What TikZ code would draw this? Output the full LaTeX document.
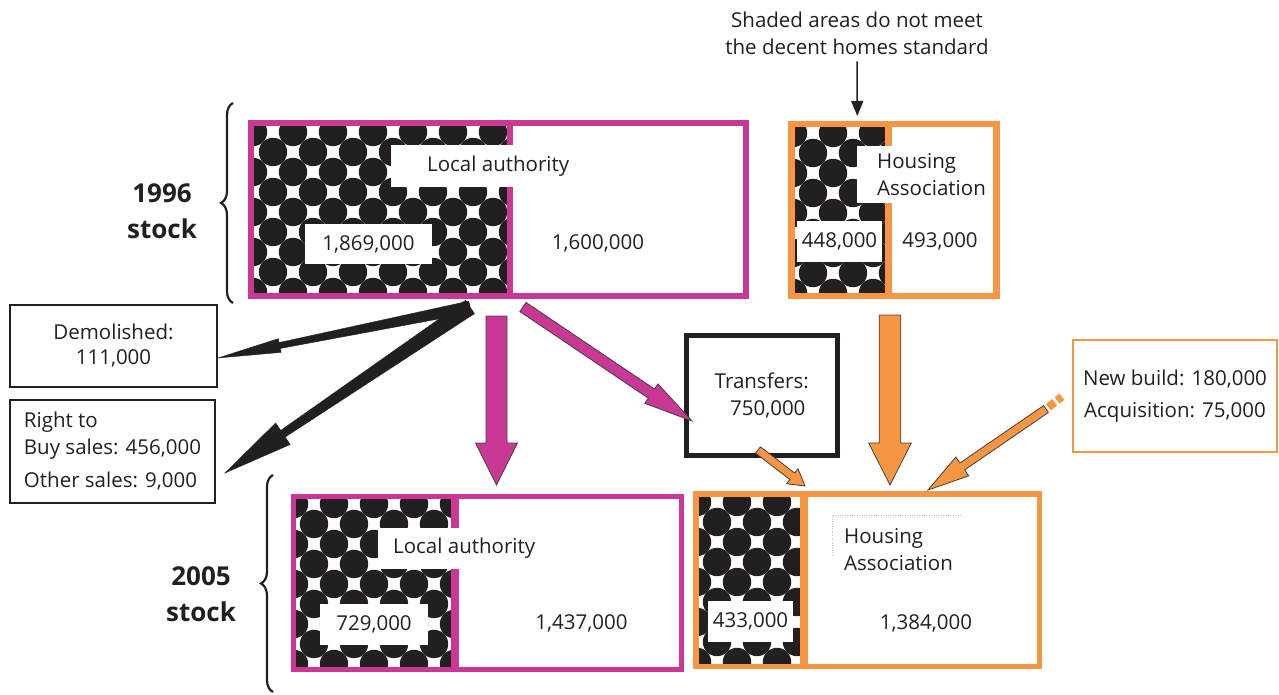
\documentclass[tikz,border=0pt]{standalone}
\usepackage{fontspec}
\setmainfont{Open Sans}
\usetikzlibrary{calc,arrows.meta,decorations.pathreplacing}

\definecolor{lamag}{RGB}{202,56,150}
\definecolor{haorg}{RGB}{246,150,66}
\definecolor{ink}{RGB}{35,31,32}

% dots for the part that is not decent
\newcommand{\dotgrid}[4]{%
  \begin{scope}
    \clip (#1,#2) rectangle (#3,#4);
    \fill[white] (#1,#2) rectangle (#3,#4);
    \foreach \i in {0,...,7}
      \foreach \j in {0,...,5} {
        \fill[ink] ({#1-1+40*\i},{#2+6+40*\j}) circle (14.2pt);
        \fill[ink] ({#1+19+40*\i},{#2+26+40*\j}) circle (14.2pt);
      }
  \end{scope}}

% block arrow: style, tail, tip, tail half width, half width at head, head half width, head length
\newcommand{\flowarrow}[7]{%
  \coordinate (hb) at ($(#3)!#7pt!(#2)$);
  \filldraw[#1] ($(#2)!#4pt!90:(#3)$) -- ($(hb)!#5pt!-90:(#2)$)
    -- ($(hb)!#6pt!-90:(#2)$) -- (#3) -- ($(hb)!#6pt!90:(#2)$)
    -- ($(hb)!#5pt!90:(#2)$) -- ($(#2)!#4pt!-90:(#3)$) -- cycle;}

\begin{document}
\begin{tikzpicture}[x=1pt,y=-1pt,
  every node/.style={text=ink, font=\fontsize{20.5pt}{27pt}\selectfont},
  whitelbl/.style={fill=white, inner ysep=0pt},
  labox/.style={draw=lamag, line width=5.5pt},
  habox/.style={draw=haorg, line width=6pt},
  flowbox/.style={draw=ink, line width=2pt},
  stocklbl/.style={align=center, font=\fontsize{26pt}{36pt}\selectfont\bfseries},
  magarrow/.style={fill=lamag, draw=black!75, line width=0.8pt},
  orgarrow/.style={fill=haorg, draw=black!75, line width=0.8pt},
  brc/.style={draw=ink, line width=2.2pt, decorate, decoration={brace, amplitude=12pt}}]
  \useasboundingbox (0,0) rectangle (1279,695);

  % 1996 stock
  \dotgrid{254}{126}{510}{293}
  \dotgrid{794}{127}{888}{293}
  \draw[lamag, line width=6pt] (510,123) -- (510,296);
  \draw[haorg, line width=7pt] (888,124) -- (888,296);
  \node[whitelbl, anchor=west, inner xsep=36pt, minimum height=42pt] (la96lbl) at (391,166) {Local authority};
  \node[whitelbl, minimum width=127pt, minimum height=40pt] (la96bad) at (368.5,244) {1,869,000};
  \node (la96ok) at (598,243) {1,600,000};
  \node[whitelbl, anchor=north west, align=left, inner xsep=20pt, minimum height=57pt] (ha96lbl) at (857,146) {Housing\\Association};
  \node[whitelbl, minimum width=85pt, minimum height=41pt] (ha96bad) at (839.5,241) {448,000};
  \node (ha96ok) at (940,241) {493,000};
  \node[labox, minimum width=495pt, minimum height=173pt] (la96) at (498.5,209.5) {};
  \node[habox, line width=6.5pt, minimum width=205pt, minimum height=172pt] (ha96) at (894,210) {};

  % 2005 stock
  \dotgrid{295}{498}{455}{667}
  \dotgrid{698}{496}{804}{664}
  \draw[lamag, line width=8pt] (455,496) -- (455,669);
  \draw[haorg, line width=8pt] (804,494) -- (804,666.5);
  \node[whitelbl, anchor=west, inner xsep=15pt, minimum height=41pt] (la05lbl) at (378,548) {Local authority};
  \node[whitelbl, minimum width=108pt, minimum height=41pt] (la05bad) at (374,624) {729,000};
  \node (la05ok) at (581.5,623) {1,437,000};
  \node[anchor=west, align=left, inner xsep=0pt] (ha05lbl) at (844,550) {Housing\\Association};
  \draw[black!25, dotted] (832,555) |- (962,515);
  \node[whitelbl, minimum width=85pt, minimum height=41pt] (ha05bad) at (750.5,621.5) {433,000};
  \node (ha05ok) at (926,623) {1,384,000};
  \node[labox, line width=5pt, minimum width=388pt, minimum height=173pt] (la05) at (487,582.5) {};
  \node[habox, line width=5.5pt, minimum width=343.5pt, minimum height=172.5pt] (ha05) at (867.75,580.25) {};

  % years and braces
  \node[stocklbl] (y96) at (162,211) {1996\\stock};
  \node[stocklbl] (y05) at (201,594) {2005\\stock};
  \draw[brc] (233,303) -- (233,103);
  \draw[brc] (273,692) -- (273,475);

  % flows
  \node[align=center] (note) at (857,33.5) {Shaded areas do not meet\\the decent homes standard};
  \node[flowbox, minimum width=207pt, minimum height=82pt, align=center,
    font=\fontsize{20.5pt}{25pt}\selectfont] (dem) at (113.5,346) {Demolished:\\111,000};
  \node[flowbox, minimum width=205pt, minimum height=103pt, align=left] (rtb) at (112.5,451.5)
    {Right to\\Buy sales: 456,000\\[6pt]Other sales: 9,000};
  \node[flowbox, line width=5pt, minimum width=151.5pt, minimum height=120pt, align=center] (trans) at (761.75,395)
    {Transfers:\\\hspace*{12pt}750,000};
  \node[flowbox, draw=haorg, line width=1.5pt, minimum width=204pt, minimum height=112pt, align=center,
    font=\fontsize{20.5pt}{32pt}\selectfont] (newb) at (1175,396) {New build: 180,000\\Acquisition: 75,000};

  \coordinate (cut) at (470,307);
  \coordinate (demtip) at (218,358);
  \coordinate (rtbtip) at (225,473);
  \coordinate (mdtail) at (496.5,316);
  \coordinate (mdtip) at (496.5,485);
  \coordinate (mgtail) at (523,307);
  \coordinate (mgtip) at (692,421);
  \coordinate (odtail) at (890,315);
  \coordinate (odtip) at (890,485);
  \coordinate (ostail) at (758,450);
  \coordinate (ostip) at (805,486);
  \coordinate (nbtail) at (1046,409);
  \coordinate (nbtip) at (928,490);
  \coordinate (nbend) at (1068,392);
  \coordinate (notetip) at (857.3,116);

  \draw[ink, line width=1.5pt, shorten <=3pt, -{Triangle[length=15pt,width=12pt]}] (note.south) -- (notetip);
  \flowarrow{ink}{cut}{demtip}{6}{3}{7}{63}
  \flowarrow{ink}{cut}{rtbtip}{8}{4}{13}{70}
  \flowarrow{magarrow}{mdtail}{mdtip}{10.5}{10.5}{21}{42}
  \flowarrow{magarrow}{mgtail}{mgtip}{5.5}{5.5}{11.7}{49}
  \flowarrow{orgarrow}{odtail}{odtip}{10.8}{10.8}{21.3}{42}
  \flowarrow{orgarrow}{ostail}{ostip}{4}{4}{9.4}{16}
  \flowarrow{orgarrow}{nbtail}{nbtip}{4.2}{4.2}{11.4}{41.6}
  \draw[haorg, line width=8pt, dash pattern=on 8pt off 3pt on 6pt off 20pt] ($(nbtail)!3pt!(nbend)$) -- (nbend);
\end{tikzpicture}
\end{document}
